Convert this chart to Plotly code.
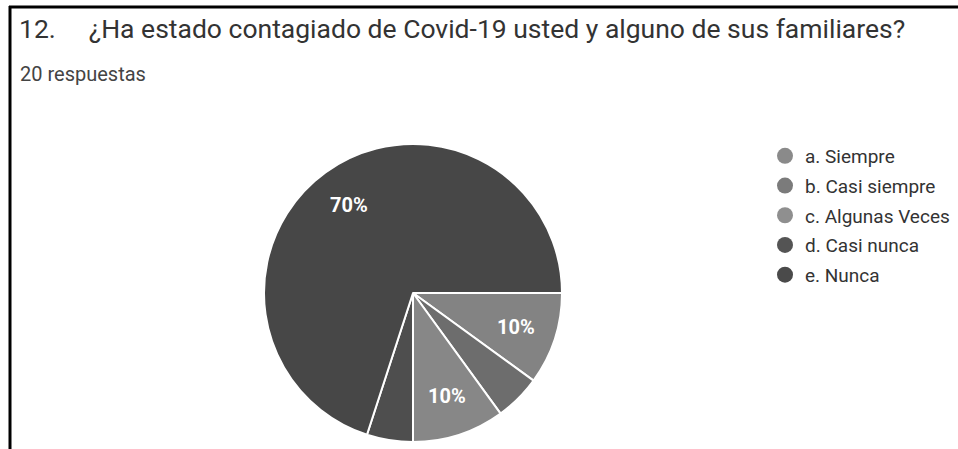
import math
import plotly.graph_objects as go

categories = ["a. Siempre", "b. Casi siempre", "c. Algunas Veces", "d. Casi nunca", "e. Nunca"]
counts = [2, 1, 2, 1, 14]
colors = ["#838383", "#6d6d6d", "#878787", "#4e4e4e", "#474747"]
legend_colors = ["#8a8a8a", "#7b7b7b", "#8f8f8f", "#545454", "#4a4a4a"]
title_text = "12.\u00a0\u00a0\u00a0\u00a0\u00a0¿Ha estado contagiado de Covid-19 usted y alguno de sus familiares?"
subtitle_text = "20 respuestas"

W, H = 958, 449
CX, CY, R = 413, 293, 149      # pie centre and radius in pixels
ROTATION = 90
LABEL_R = 0.73
total = sum(counts)

fig = go.Figure()
fig.add_trace(go.Pie(
    labels=categories, values=counts, sort=False, direction="clockwise", rotation=ROTATION,
    marker=dict(colors=colors, line=dict(color="white", width=2)),
    textinfo="none", hoverinfo="label+percent", showlegend=False,
    domain=dict(x=[(CX - R) / W, (CX + R) / W], y=[(H - CY - R) / H, (H - CY + R) / H]),
))
for cat, col in zip(categories, legend_colors):
    fig.add_trace(go.Scatter(x=[None], y=[None], mode="markers", name=cat, legendgroup=cat,
                             marker=dict(symbol="circle", size=16, color=col)))

# slice percentage labels, placed at each slice's mid angle (only for slices >= 8%)
annotations = []
cum = 0
for c in counts:
    frac = c / total
    mid = ROTATION + (cum + frac / 2) * 360
    cum += frac
    if frac < 0.08:
        continue
    t = math.radians(mid)
    px = CX + math.sin(t) * LABEL_R * R
    py = CY - math.cos(t) * LABEL_R * R
    annotations.append(dict(text=f"{round(frac * 100)}%", x=px / W, y=1 - py / H,
                            xref="paper", yref="paper", showarrow=False,
                            xanchor="center", yanchor="middle",
                            font=dict(family="Roboto", size=20, color="white", weight="bold")))

annotations.append(dict(text=subtitle_text, x=18 / W, y=1 - 74 / H, xref="paper", yref="paper",
                        xanchor="left", yanchor="middle", showarrow=False,
                        font=dict(family="Roboto", size=20, color="#444444")))

fig.update_layout(
    width=W, height=H, margin=dict(l=0, r=0, t=0, b=0),
    paper_bgcolor="white", plot_bgcolor="white",
    xaxis=dict(visible=False), yaxis=dict(visible=False),
    font=dict(family="Roboto", color="#333333"),
    title=dict(text=title_text, x=19 / W, xanchor="left", xref="paper",
               y=1 - 29 / H, yanchor="middle", yref="container",
               font=dict(family="Roboto", size=26.5, color="#333333")),
    legend=dict(x=765 / W, y=1 - 137 / H, xanchor="left", yanchor="top",
                font=dict(family="Roboto", size=19, color="#333333"),
                itemwidth=30, tracegroupgap=2, bgcolor="rgba(0,0,0,0)"),
    annotations=annotations,
    shapes=[
        dict(type="line", xref="paper", yref="paper", x0=9 / W, x1=1, y0=1 - 7 / H, y1=1 - 7 / H,
             line=dict(color="black", width=3)),
        dict(type="line", xref="paper", yref="paper", x0=10 / W, x1=10 / W, y0=0, y1=1 - 6 / H,
             line=dict(color="black", width=3)),
    ],
)
fig.write_html("out.html", config={"displayModeBar": False},
               post_script="document.body.style.margin='0';")
